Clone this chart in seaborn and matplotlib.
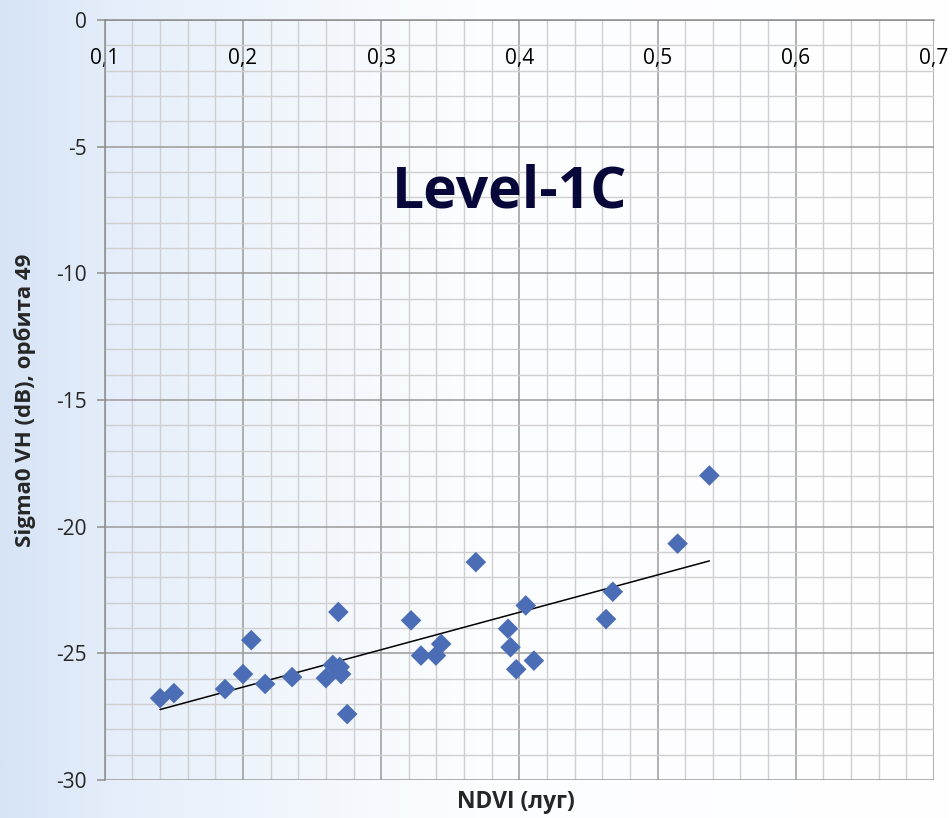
import numpy as np
import pandas as pd
import matplotlib
matplotlib.use("Agg")
import matplotlib.pyplot as plt
import seaborn as sns
from matplotlib.ticker import MultipleLocator, FuncFormatter
from matplotlib.colors import LinearSegmentedColormap

ndvi = [0.140, 0.150, 0.187, 0.200, 0.206, 0.216, 0.2355, 0.260, 0.265, 0.269,
        0.270, 0.271, 0.2754, 0.3216, 0.3288, 0.3396, 0.3434, 0.3685, 0.3918,
        0.3936, 0.3977, 0.4046, 0.4105, 0.4627, 0.4676, 0.5145, 0.5375]
sigma0 = [-26.77, -26.57, -26.41, -25.82, -24.48, -26.21, -25.94, -25.98, -25.46,
          -23.37, -25.54, -25.82, -27.40, -23.70, -25.09, -25.09, -24.63, -21.40,
          -24.03, -24.76, -25.63, -23.11, -25.29, -23.65, -22.57, -20.67, -17.98]
x_ticks = [0.1, 0.2, 0.3, 0.4, 0.5, 0.6, 0.7]
y_ticks = [0, -5, -10, -15, -20, -25, -30]

df = pd.DataFrame({"ndvi": ndvi, "sigma0": sigma0})

sns.set_theme(style="white")
plt.rcParams['font.family'] = ['Open Sans', 'DejaVu Sans']

fig = plt.figure(figsize=(9.53, 8.18), dpi=100)

# background gradient
bg = fig.add_axes([0, 0, 1, 1], zorder=-10)
grad = np.linspace(0, 1, 512)[None, :]
cmap = LinearSegmentedColormap.from_list(
    "bg", [(0, "#d6e4f6"), (0.12, "#e5eefa"), (0.3, "#f1f6fc"), (0.5, "#fcfdff"), (1, "#ffffff")])
bg.imshow(grad, aspect="auto", cmap=cmap, extent=[0, 1, 0, 1], interpolation="bilinear")
bg.axis("off")

ax = fig.add_axes([0.110, 0.0465, 0.870, 0.929])
ax.patch.set_alpha(0)

sns.regplot(data=df, x="ndvi", y="sigma0", scatter=False, ci=None, ax=ax,
            line_kws=dict(color="black", lw=1.1, zorder=3))
sns.scatterplot(data=df, x="ndvi", y="sigma0", marker="D", s=110, color="#4a6db5",
                edgecolor="none", ax=ax, zorder=4)

ax.set_xlim(0.1, 0.7)
ax.set_ylim(-30, 0)
ax.xaxis.set_minor_locator(MultipleLocator(0.02))
ax.yaxis.set_minor_locator(MultipleLocator(1))
ax.set_xticks(x_ticks)
ax.set_yticks(y_ticks)
ax.xaxis.set_major_formatter(FuncFormatter(lambda v, p: f"{v:.1f}".replace(".", ",")))
ax.yaxis.set_major_formatter(FuncFormatter(lambda v, p: f"{int(round(v))}"))

ax.grid(which="major", color="#9a9a9a", lw=1.1)
ax.grid(which="minor", color="#cfcfcf", lw=1.0)
ax.set_axisbelow(True)

for side in ["top", "left"]:
    ax.spines[side].set_color("#8c8c8c")
    ax.spines[side].set_linewidth(1.1)
for side in ["right", "bottom"]:
    ax.spines[side].set_visible(False)

ax.xaxis.tick_top()
ax.tick_params(axis="x", which="both", length=0, pad=-35, labelsize=15, colors="black")
ax.tick_params(axis="y", which="major", length=6, width=1.1, color="#8c8c8c",
               direction="out", labelsize=15, pad=7, left=True)
ax.tick_params(axis="y", which="minor", length=0)

ax.set_xlabel("")
ax.set_ylabel("")
fig.text(0.541, 0.019, "NDVI (луг)", ha="center", va="center", fontsize=16.5, fontweight="bold")
fig.text(0.026, 0.511, "Sigma0 VH (dB), орбита 49", ha="center", va="center", rotation=90,
         fontsize=16, fontweight="bold")
ax.text(0.535, 0.765, "Level-1C", transform=fig.transFigure, ha="center", va="center",
        fontsize=41, fontweight="bold", color="#07073a", zorder=5)

fig.savefig("out.png", dpi=100)
